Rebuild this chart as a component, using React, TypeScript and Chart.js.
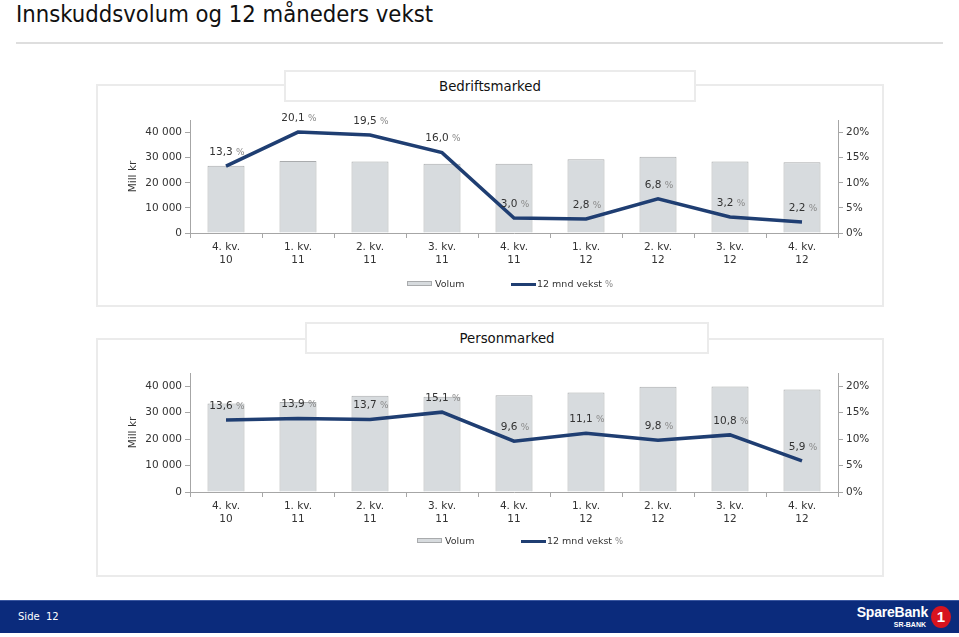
import React, { useEffect, useRef } from 'react';
import { Chart, registerables } from 'chart.js';

Chart.register(...registerables);

const FONT = '"DejaVu Sans", sans-serif';

const categories: string[][] = [
  ['4. kv.', '10'],
  ['1. kv.', '11'],
  ['2. kv.', '11'],
  ['3. kv.', '11'],
  ['4. kv.', '11'],
  ['1. kv.', '12'],
  ['2. kv.', '12'],
  ['3. kv.', '12'],
  ['4. kv.', '12'],
];

const bmVolum = [26800, 28700, 28500, 27600, 27600, 29400, 30400, 28500, 28200];
const bmVekst = [13.3, 20.1, 19.5, 16.0, 3.0, 2.8, 6.8, 3.2, 2.2];

const pmVolum = [33500, 34000, 36400, 36000, 36600, 37600, 39800, 39900, 38800];
const pmVekst = [13.6, 13.9, 13.7, 15.1, 9.6, 11.1, 9.8, 10.8, 5.9];

const volumTicks = [0, 10000, 20000, 30000, 40000];
const pctTicks = [0, 5, 10, 15, 20];
const volumMax = 45000;
const pctMax = 22.5;

const BAR_FILL = '#d7dbde';
const BAR_BORDER = '#a9abad';
const LINE = '#1f3e72';
const AXIS = '#a6a6a6';
const TXT = '#333333';

const fmtThousands = (v: number) => String(v).replace(/\B(?=(\d{3})+(?!\d))/g, ' ');

const labelPlugin = {
  id: 'pctLabels',
  afterDatasetsDraw(chart: any) {
    const ctx = chart.ctx;
    const meta = chart.getDatasetMeta(0);
    const ds = chart.data.datasets[0];
    ctx.save();
    ctx.textBaseline = 'middle';
    ctx.textAlign = 'left';
    meta.data.forEach((pt: any, i: number) => {
      const num = (ds.data[i] as number).toFixed(1).replace('.', ',') + ' ';
      ctx.font = `10.5px ${FONT}`;
      const w1 = ctx.measureText(num).width;
      ctx.font = `9px ${FONT}`;
      const w2 = ctx.measureText('%').width;
      const x0 = pt.x - (w1 + w2) / 2 + 1;
      const y = pt.y - 14;
      ctx.font = `10.5px ${FONT}`;
      ctx.fillStyle = TXT;
      ctx.fillText(num, x0, y);
      ctx.font = `9px ${FONT}`;
      ctx.fillStyle = '#8a8a8a';
      ctx.fillText('%', x0 + w1, y + 0.5);
    });
    ctx.restore();
  },
};

function makeConfig(volum: number[], vekst: number[], padTop: number, padBottom: number): any {
  return {
    type: 'bar',
    data: {
      labels: categories,
      datasets: [
        {
          type: 'line',
          label: '12 mnd vekst %',
          data: vekst,
          yAxisID: 'y1',
          borderColor: LINE,
          backgroundColor: LINE,
          borderWidth: 3.5,
          pointRadius: 0,
          tension: 0,
          order: 0,
        },
        {
          type: 'bar',
          label: 'Volum',
          data: volum,
          yAxisID: 'y',
          backgroundColor: BAR_FILL,
          borderColor: BAR_BORDER,
          borderWidth: 1,
          categoryPercentage: 1,
          barPercentage: 0.514,
          order: 1,
        },
      ],
    },
    options: {
      responsive: false,
      maintainAspectRatio: false,
      animation: false,
      devicePixelRatio: 1,
      layout: { padding: { top: padTop, bottom: padBottom, left: 0, right: 0 } },
      plugins: { legend: { display: false }, tooltip: { enabled: false }, title: { display: false } },
      scales: {
        x: {
          type: 'category',
          offset: true,
          grid: { display: true, drawOnChartArea: false, drawTicks: true, tickLength: 5, color: AXIS, offset: true },
          border: { display: true, color: AXIS, width: 1 },
          ticks: { color: TXT, font: { family: FONT, size: 10.5, lineHeight: 1.25 }, padding: 3, autoSkip: false, maxRotation: 0 },
          afterFit: (s: any) => { s.height = 40; },
        },
        y: {
          position: 'left',
          min: 0,
          max: volumMax,
          grid: { display: true, drawOnChartArea: false, drawTicks: true, tickLength: 5, color: AXIS },
          border: { display: true, color: AXIS, width: 1 },
          ticks: { color: TXT, font: { family: FONT, size: 10.5 }, padding: 3, callback: (v: any) => fmtThousands(v) },
          afterBuildTicks: (s: any) => { s.ticks = volumTicks.map((v) => ({ value: v })); },
          title: { display: true, text: 'Mill kr', color: TXT, font: { family: FONT, size: 10.5 }, padding: { top: 31, bottom: 0 } },
          afterFit: (s: any) => { s.width = 94; },
        },
        y1: {
          position: 'right',
          min: 0,
          max: pctMax,
          grid: { display: true, drawOnChartArea: false, drawTicks: true, tickLength: 5, color: AXIS },
          border: { display: true, color: AXIS, width: 1 },
          ticks: { color: TXT, font: { family: FONT, size: 10.5 }, padding: 3, callback: (v: any) => v + '%' },
          afterBuildTicks: (s: any) => { s.ticks = pctTicks.map((v) => ({ value: v })); },
          afterFit: (s: any) => { s.width = 46; },
        },
      },
    },
    plugins: [labelPlugin],
  };
}

function ChartCanvas(props: { volum: number[]; vekst: number[]; left: number; top: number; width: number; height: number; padTop: number; padBottom: number }) {
  const ref = useRef<HTMLCanvasElement | null>(null);
  useEffect(() => {
    if (!ref.current) return;
    const chart = new Chart(ref.current, makeConfig(props.volum, props.vekst, props.padTop, props.padBottom));
    return () => chart.destroy();
  }, []);
  return (
    <canvas
      ref={ref}
      width={props.width}
      height={props.height}
      style={{ position: 'absolute', left: props.left, top: props.top, width: props.width, height: props.height }}
    />
  );
}

function Legend(props: { left: number; top: number }) {
  const txt: React.CSSProperties = { position: 'absolute', top: -7, font: `9.5px ${FONT}`, color: TXT, whiteSpace: 'nowrap', lineHeight: '14px' };
  return (
    <div style={{ position: 'absolute', left: props.left, top: props.top, width: 0, height: 0 }}>
      <div style={{ position: 'absolute', left: 0, top: -3, width: 25, height: 5, background: BAR_FILL, border: `1px solid ${BAR_BORDER}`, boxSizing: 'border-box' }} />
      <div style={{ ...txt, left: 28 }}>Volum</div>
      <div style={{ position: 'absolute', left: 104, top: -1.5, width: 25, height: 3, background: LINE }} />
      <div style={{ ...txt, left: 130 }}>
        12 mnd vekst <span style={{ color: '#8a8a8a', fontSize: 8.5 }}>%</span>
      </div>
    </div>
  );
}

function Panel(props: { left: number; top: number; width: number; height: number }) {
  return (
    <div
      style={{
        position: 'absolute',
        left: props.left,
        top: props.top,
        width: props.width,
        height: props.height,
        border: '2px solid #ebebeb',
        boxSizing: 'border-box',
        background: '#ffffff',
      }}
    />
  );
}

function TitleBox(props: { left: number; top: number; width: number; height: number; text: string }) {
  return (
    <div
      style={{
        position: 'absolute',
        left: props.left,
        top: props.top,
        width: props.width,
        height: props.height,
        border: '2px solid #ebebeb',
        boxSizing: 'border-box',
        background: '#ffffff',
        display: 'flex',
        alignItems: 'center',
        justifyContent: 'center',
        font: `13.3px ${FONT}`,
        color: '#111',
      }}
    >
      {props.text}
    </div>
  );
}

export default function App() {
  return (
    <div style={{ position: 'absolute', left: 0, top: 0, width: 959, height: 637, background: '#ffffff', overflow: 'hidden' }}>
      <div style={{ position: 'absolute', left: 16, top: 0, font: `23.6px "DejaVu Sans Condensed", "DejaVu Sans", sans-serif`, color: '#111', lineHeight: '28px', whiteSpace: 'nowrap' }}>
        Innskuddsvolum og 12 måneders vekst
      </div>
      <div style={{ position: 'absolute', left: 16, top: 42, width: 927, height: 2, background: '#dedede' }} />

      <Panel left={96} top={84} width={788} height={223} />
      <TitleBox left={284} top={70} width={412} height={32} text="Bedriftsmarked" />
      <ChartCanvas volum={bmVolum} vekst={bmVekst} left={96} top={84} width={788} height={223} padTop={36} padBottom={34} />
      <Legend left={407} top={284} />

      <Panel left={96} top={338} width={788} height={239} />
      <TitleBox left={305} top={322} width={404} height={32} text="Personmarked" />
      <ChartCanvas volum={pmVolum} vekst={pmVekst} left={96} top={338} width={788} height={239} padTop={35} padBottom={45} />
      <Legend left={417} top={541} />

      <div style={{ position: 'absolute', left: 0, top: 600, width: 959, height: 33, background: '#0b2b7c', borderTop: '1px solid #3a57a0', boxSizing: 'border-box' }}>
        <div style={{ position: 'absolute', left: 18, top: 10, font: `10px ${FONT}`, color: '#ffffff' }}>Side&nbsp;&nbsp;12</div>
        <div style={{ position: 'absolute', right: 31, top: 3, font: `bold 14px "Liberation Sans", sans-serif`, color: '#ffffff', letterSpacing: -0.2 }}>SpareBank</div>
        <div style={{ position: 'absolute', right: 33, top: 20, font: `bold 7px "Liberation Sans", sans-serif`, color: '#ffffff' }}>SR-BANK</div>
        <div style={{ position: 'absolute', left: 931, top: 5, width: 20, height: 22, borderRadius: '50%', background: '#d7141e', color: '#ffffff', font: `bold 15px "Liberation Sans", sans-serif`, textAlign: 'center', lineHeight: '22px' }}>1</div>
      </div>
    </div>
  );
}
